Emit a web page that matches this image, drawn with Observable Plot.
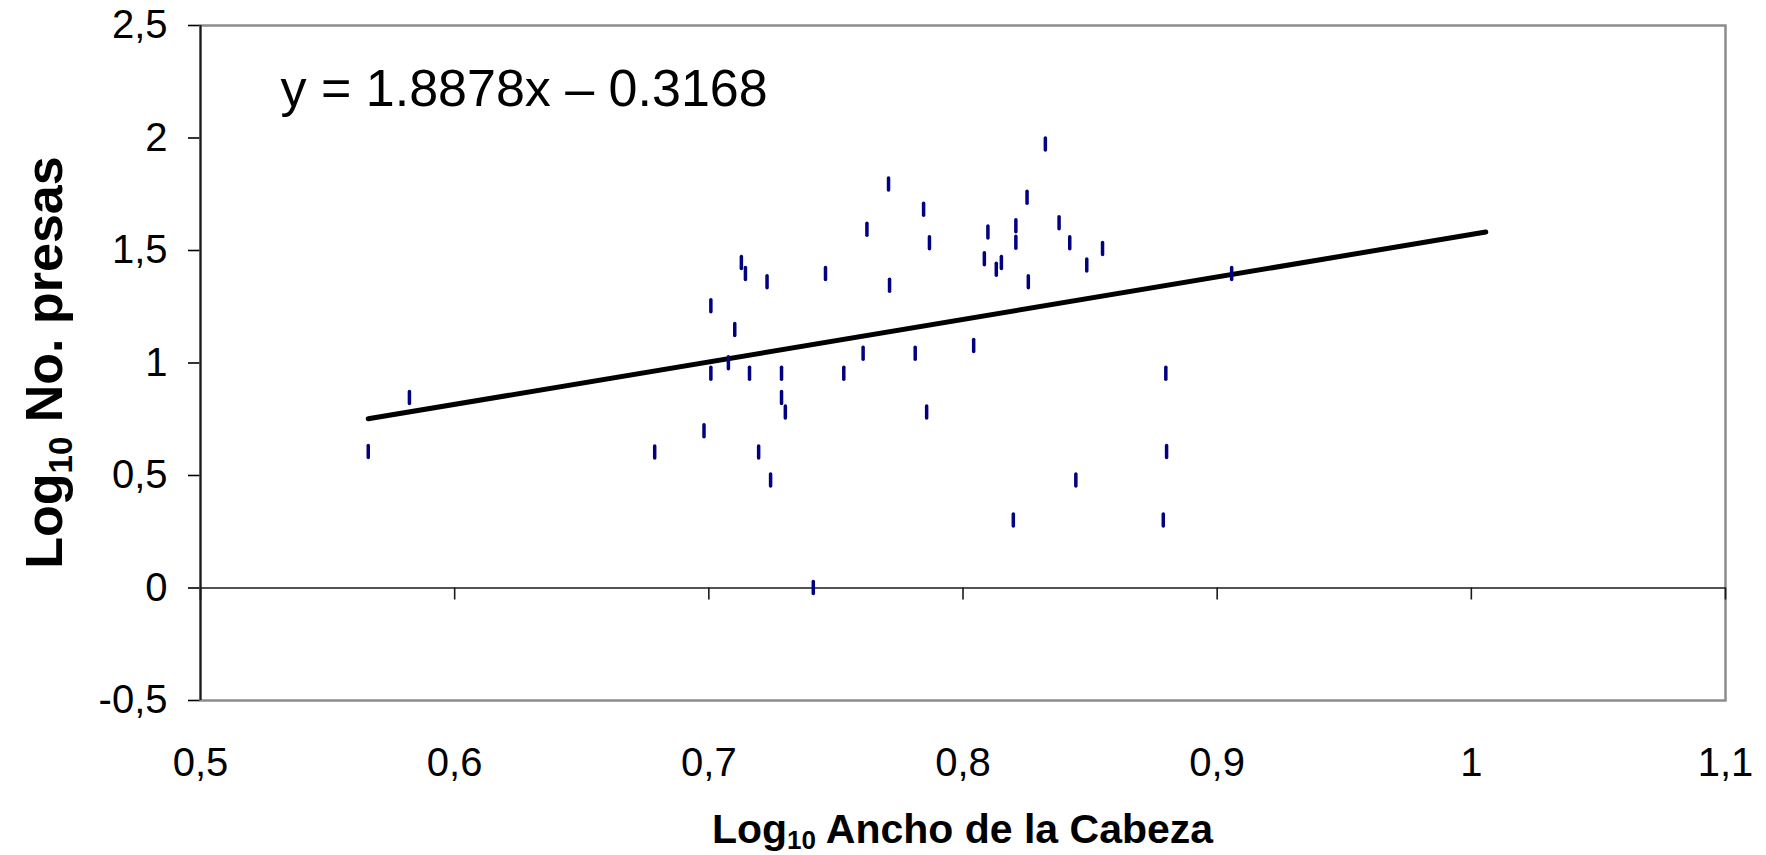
<!DOCTYPE html>
<html>
<head>
<meta charset="utf-8">
<script src="https://cdn.jsdelivr.net/npm/d3@7"></script>
<script src="https://cdn.jsdelivr.net/npm/@observablehq/plot@0.6"></script>
<style>
html, body { margin: 0; padding: 0; background: #fff; }
svg g[aria-label="y-axis tick"] path { stroke-width: 1.6; }
</style>
</head>
<body>
<div id="chart"></div>
<script>
// Log10 head width (x) and Log10 number of prey (y)
const headWidthLog = [
  0.8324, 0.7707, 0.8252, 0.7845, 0.7622, 0.8378, 0.8098, 0.8208, 0.8208, 0.7868,
  0.8420, 0.8487, 0.8084, 0.8151, 0.8131, 0.8257, 0.7128, 0.7144, 0.7229, 0.7459,
  0.7711, 0.7008, 0.7102, 0.8042, 0.7607, 0.7812, 0.7077, 0.7008, 0.7160, 0.7286,
  0.7531, 0.7286, 0.7301, 0.7857, 0.6981, 0.6787, 0.7196, 0.7243, 0.8444, 0.8198,
  0.7411, 0.8798, 0.8801, 0.8788, 0.9057, 0.8549, 0.5660, 0.5822
];
const preyLog = [
  1.971, 1.793, 1.734, 1.681, 1.592, 1.621, 1.580, 1.608, 1.534, 1.532,
  1.532, 1.433, 1.461, 1.444, 1.414, 1.359, 1.444, 1.396, 1.359, 1.396,
  1.343, 1.252, 1.147, 1.076, 1.041, 1.041, 0.999, 0.952, 0.952, 0.952,
  0.952, 0.845, 0.780, 0.780, 0.697, 0.602, 0.602, 0.478, 0.478, 0.300,
  0.000, 0.952, 0.604, 0.300, 1.396, 1.507, 0.604, 0.845
];

const xTicks = [0.5, 0.6, 0.7, 0.8, 0.9, 1.0, 1.1];
const xTickLabels = ["0,5", "0,6", "0,7", "0,8", "0,9", "1", "1,1"];
const yTicks = [-0.5, 0, 0.5, 1, 1.5, 2, 2.5];
const yTickLabels = ["-0,5", "0", "0,5", "1", "1,5", "2", "2,5"];

// trend line end points
const trendX = [0.566, 1.0057];
const trendY = [0.752, 1.582];

const equationText = ["y = 1.8878x \u2013 0.3168"];
const xTitleParts = ["Log", "10", " Ancho de la Cabeza"];
const yTitleParts = ["Log", "10", " No. presas"];

const points = headWidthLog.map((x, i) => ({x, y: preyLog[i]}));
const trend = trendX.map((x, i) => ({x, y: trendY[i]}));
const xLabelMap = new Map(xTicks.map((t, i) => [t, xTickLabels[i]]));
const yLabelMap = new Map(yTicks.map((t, i) => [t, yTickLabels[i]]));

const font = '"Liberation Sans", Arial, Helvetica, sans-serif';

const chart = Plot.plot({
  width: 1766,
  height: 855,
  marginLeft: 200,
  marginRight: 41,
  marginTop: 25,
  marginBottom: 155,
  style: {fontFamily: font, fontSize: "40px", background: "#fff", color: "#000", overflow: "visible"},
  x: {domain: [0.5, 1.1], ticks: xTicks, tickSize: 0, tickPadding: 47, tickFormat: d => xLabelMap.get(d), label: null},
  y: {domain: [-0.5, 2.5], ticks: yTicks, tickSize: 12, tickPadding: 21, tickFormat: d => yLabelMap.get(d), label: null},
  marks: [
    Plot.frame({stroke: "#8c8c8c", strokeWidth: 2.5}),
    Plot.ruleX([0.5], {stroke: "#1a1a1a", strokeWidth: 2}),
    Plot.ruleY([0], {stroke: "#1a1a1a", strokeWidth: 1.6}),
    Plot.ruleX(xTicks, {x: d => d, y1: 0, y2: 0, insetBottom: -12, stroke: "#1a1a1a", strokeWidth: 1.6}),
    Plot.line(trend, {x: "x", y: "y", stroke: "#000", strokeWidth: 5, strokeLinecap: "round"}),
    Plot.ruleX(points, {x: "x", y1: "y", y2: "y", insetTop: -6, insetBottom: -6, stroke: "#000080", strokeWidth: 3.5, strokeLinecap: "round"}),
    Plot.text(equationText, {frameAnchor: "top-left", dx: 80, dy: 44, fontSize: 52, textAnchor: "start", lineAnchor: "top", fill: "#000"})
  ]
});

document.getElementById("chart").appendChild(chart);

const svg = d3.select(chart);

// y title (rotated) with subscript
const yt = svg.append("text")
  .attr("transform", "translate(62,362.5) rotate(-90)")
  .attr("text-anchor", "middle")
  .attr("font-family", font)
  .attr("font-size", 52)
  .attr("font-weight", "bold")
  .attr("fill", "#000");
yt.append("tspan").text(yTitleParts[0]);
yt.append("tspan").attr("font-size", 33).attr("dy", 10).text(yTitleParts[1]);
yt.append("tspan").attr("dy", -10).text(yTitleParts[2]);

// x title with subscript
const xt = svg.append("text")
  .attr("x", 962.5)
  .attr("y", 843)
  .attr("text-anchor", "middle")
  .attr("font-family", font)
  .attr("font-size", 41)
  .attr("font-weight", "bold")
  .attr("fill", "#000");
xt.append("tspan").text(xTitleParts[0]);
xt.append("tspan").attr("font-size", 26).attr("dy", 6).text(xTitleParts[1]);
xt.append("tspan").attr("dy", -6).text(xTitleParts[2]);
</script>
</body>
</html>
